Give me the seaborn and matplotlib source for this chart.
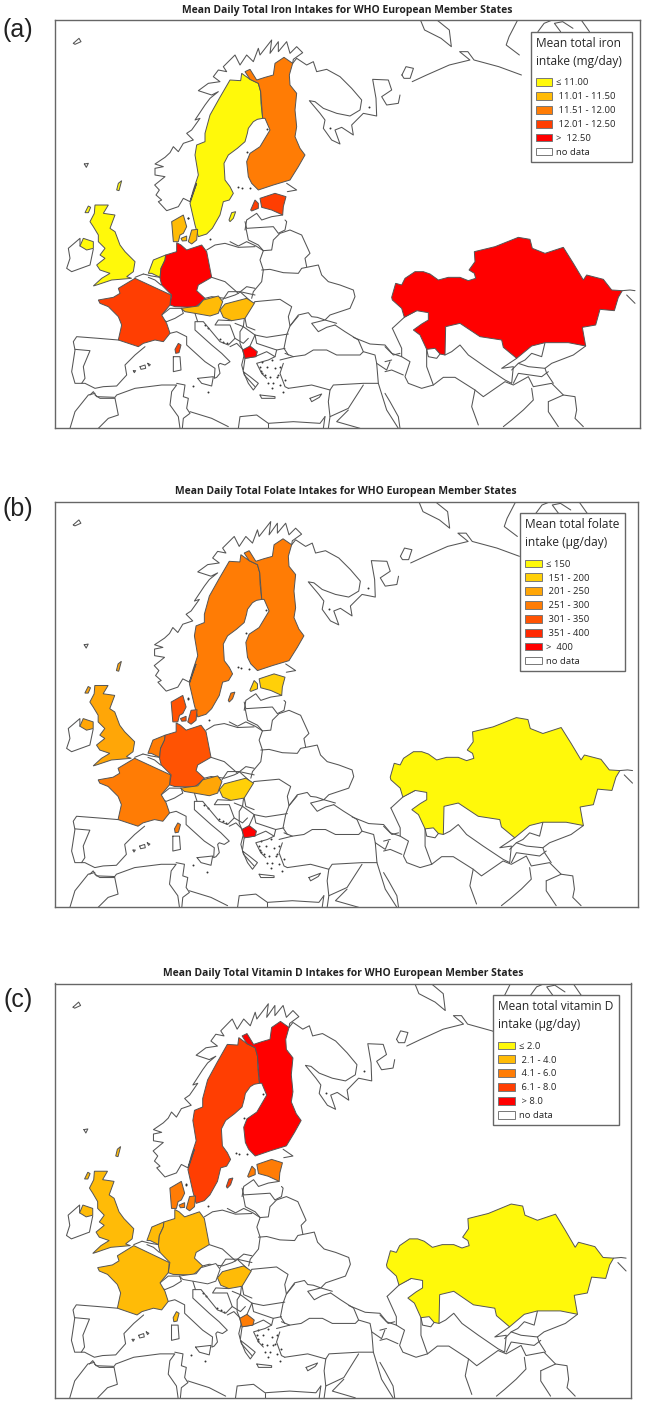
import numpy as np, pandas as pd
import matplotlib
matplotlib.use("Agg")
import matplotlib.pyplot as plt
from matplotlib.patches import Patch
import seaborn as sns

sns.set_theme(style="white")
plt.rcParams['font.family'] = ['Open Sans', 'DejaVu Sans']

W, H = 645, 1405
# ---- tile origins and scale of the traced outlines
TILES = {'T4': (55, 20, 3, 3), 'T5': (150, 20, 3, 3), 'T6': (55, 170, 3, 3), 'T7': (55, 280, 3, 3),
         'T8': (230, 220, 3, 3), 'T9': (385, 220, 3, 3), 'Z1': (0, 0, 2.426, 3)}
def P(t, pts):
    x0, y0, sx, sy = TILES[t]
    a = np.array(pts, float)
    return np.c_[x0 + a[:, 0] / sx, y0 + a[:, 1] / sy]

# ---- filled countries (outlines)
sweden = np.vstack([
    P('T5', [(275,160),(300,178),(325,190),(332,215),(333,250),(338,295),(322,298),(310,305),(295,325),(292,340),(285,365),(262,385),(235,405),(222,430),(225,480),(240,500),(250,520),(238,540)]),
    P('T6', [(505,95),(495,135),(472,175),(455,192),(430,200),(420,165),(405,100),(425,40)]),
    P('T5', [(120,545),(130,510),(145,465),(135,405),(140,375),(165,365),(165,340),(180,285),(208,235),(240,180),(272,182)])])
finland = P('T5', [(285,155),(300,148),(320,180),(345,172),(370,165),(375,130),(402,112),(428,130),(418,165),(420,195),(440,220),(435,270),(440,320),(435,350),(450,385),(465,405),(445,440),(420,480),(370,495),(325,510),(305,490),(295,470),(290,425),(300,400),(330,380),(360,330),(345,295),(338,295),(332,215),(325,190),(300,178)])
estonia = P('T5', [(330,535),(375,520),(408,530),(400,560),(398,585),(365,570),(335,562)])
saaremaa = P('T5', [(302,570),(315,540),(325,550),(325,565),(305,573)])
gotland = P('T5', [(237,600),(245,578),(257,575),(250,595),(240,605)])
jutland = P('T6', [(355,215),(350,155),(385,135),(395,170),(385,190),(375,195),(370,215)])
zealand = P('T6', [(400,215),(410,180),(428,178),(425,210),(410,222)])
fyn = P('T6', [(378,205),(395,198),(395,212),(382,213)])
britain = P('T6', [(120,105),(160,105),(145,130),(180,135),(165,175),(180,185),(195,225),(210,245),(240,275),(235,305),(215,320),(230,325),(170,330),(125,345),(115,348),(140,325),(165,310),(135,300),(125,285),(150,265),(135,255),(150,235),(130,215),(130,195),(115,170),(105,155),(118,130)])
n_ireland = P('T6', [(75,228),(85,205),(115,215),(115,235),(95,240)])
shetland = P('T4', [(185,510),(190,490),(200,482),(192,512)])
hebrides = P('T6', [(90,128),(100,108),(107,112),(100,128)])
netherlands = P('T6', [(280,310),(295,270),(332,255),(330,270),(318,295),(315,322),(290,310)])
germany = P('T6', [(365,218),(378,225),(395,240),(440,225),(455,245),(470,322),(430,345),(425,362),(450,385),(435,400),(420,412),(360,410),(345,405),(350,375),(320,345),(315,325),(318,295),(330,270),(332,255),(365,245)])
france = P('T7', [(130,60),(175,52),(195,40),(190,25),(240,-5),(348,45),(345,75),(320,105),(335,130),(345,160),(325,185),(300,180),(265,190),(250,200),(190,180),(200,135),(190,110),(160,80),(135,70)])
corsica = P('T7', [(360,208),(370,190),(378,195),(372,218),(362,220)])
austria = P('T7', [(378,85),(430,78),(445,60),(490,48),(503,65),(490,100),(465,108),(420,100),(390,95)])
hungary = P('T7', [(495,90),(510,72),(575,55),(598,70),(570,115),(530,122),(505,112)])
macedonia = P('T8', [(38,390),(60,378),(82,395),(78,410),(45,415)])
kazakhstan = P('T9', [(20,232),(32,190),(50,195),(60,175),(90,155),(115,155),(135,162),(160,180),(190,172),(225,172),(250,182),(272,175),(268,160),(252,150),(270,125),(268,95),(330,80),(400,52),(435,58),(442,85),(480,100),(535,82),(565,130),(595,180),(605,165),(655,178),(680,210),(712,212),(700,232),(688,272),(645,268),(632,315),(592,322),(602,378),(550,368),(480,368),(440,378),(395,415),(355,382),(350,360),(285,350),(225,310),(182,320),(180,405),(165,402),(150,385),(125,388),(105,345),(85,330),(110,312),(130,300),(130,278),(95,272),(58,292),(50,265),(22,240)])

SHAPES = {'Sweden': [sweden, gotland], 'Finland': [finland], 'Estonia': [estonia, saaremaa],
          'Denmark': [jutland, zealand, fyn], 'UK': [britain, n_ireland, shetland, hebrides],
          'Netherlands': [netherlands], 'Germany': [germany], 'France': [france, corsica],
          'Austria': [austria], 'Hungary': [hungary], 'Macedonia': [macedonia], 'Kazakhstan': [kazakhstan]}

# ---- class of each country in each panel (None = no data)
iron_class = {'Sweden':0,'UK':0,'Netherlands':0,'Denmark':1,'Austria':1,'Hungary':1,'Finland':2,'France':3,'Estonia':3,'Germany':4,'Kazakhstan':4,'Macedonia':4}
folate_class = {'Sweden':3,'Finland':3,'UK':2,'Netherlands':3,'Denmark':4,'Germany':4,'France':3,'Austria':2,'Hungary':1,'Estonia':1,'Kazakhstan':0,'Macedonia':6}
vitd_class = {'Sweden':3,'Finland':4,'UK':1,'Netherlands':1,'Denmark':2,'Germany':1,'France':1,'Hungary':1,'Estonia':2,'Kazakhstan':0,'Macedonia':2}

iron_labels = ['≤ 11.00', ' 11.01 - 11.50', ' 11.51 - 12.00', ' 12.01 - 12.50', '>  12.50']
folate_labels = ['≤ 150', ' 151 - 200', ' 201 - 250', ' 251 - 300', ' 301 - 350', ' 351 - 400', '>  400']
vitd_labels = ['≤ 2.0', ' 2.1 - 4.0', ' 4.1 - 6.0', ' 6.1 - 8.0', ' > 8.0']
titles = ['Mean Daily Total Iron Intakes for WHO European Member States',
          'Mean Daily Total Folate Intakes for WHO European Member States',
          'Mean Daily Total Vitamin D Intakes for WHO European Member States']
legend_titles = ['Mean total iron\nintake (mg/day)', 'Mean total folate\nintake (µg/day)', 'Mean total vitamin D\nintake (µg/day)']
panel_letters = ['(a)', '(b)', '(c)']

# ---- no-data boundaries
BORDERS = [
 P('T5', [(120,545),(100,535),(85,560),(50,572),(25,545),(35,540),(18,525),(28,510),(14,495),(45,470),(15,465),(15,445),(40,440),(15,432),(45,412),(60,398),(70,380),(85,395),(100,370),(130,360),(110,340),(125,330),(150,295),(135,300),(165,255),(180,235),(205,215),(185,225),(145,212),(175,190),(210,185),(190,170),(205,150),(230,155),(220,140),(255,105),(270,135),(290,105),(310,125),(325,85),(330,105),(365,60),(360,100),(385,65),(385,95),(410,65),(420,100),(440,80),(458,98),(430,118),(428,130)]),
 P('T5', [(428,130),(440,115),(470,135),(490,125),(500,155),(530,148),(570,170),(605,205),(635,240),(630,270),(600,288),(560,280),(520,265),(495,245),(478,242),(510,280),(525,300),(520,325),(545,360),(570,372),(555,330),(575,322),(610,345),(605,315),(640,280),(680,288),(678,235),(668,178),(715,180),(725,210),(695,230),(710,255),(745,250),(750,225)]),
 P('Z1', [(1000,245),(1035,225),(1090,195),(1140,180),(1115,155),(1135,155),(1150,180),(1210,200),(1265,225)]),
 P('Z1', [(1020,60),(1030,90),(1070,115),(1095,140),(1090,90),(1060,60)]),
 P('Z1', [(975,225),(985,200),(1003,205),(995,235),(980,235),(975,225)]),
 P('Z1', [(1255,62),(1235,110),(1228,135),(1260,165)]),
 P('Z1', [(1305,95),(1320,70),(1340,60)]), P('Z1', [(1360,95),(1345,70),(1365,65),(1390,85)]), P('Z1', [(1430,95),(1410,60)]),
 P('T5', [(410,490),(440,510),(412,515)]),
 P('T5', [(285,630),(290,600),(320,580),(335,600),(365,590),(398,585)]),
 # Ireland and small northern islands
 P('T6', [(75,228),(75,205),(40,235),(45,265),(35,295),(50,305),(105,285),(115,237)]),
 P('T4', [(55,70),(72,55),(78,65),(60,73),(55,70)]),
 P('T4', [(88,432),(100,430),(94,442),(88,432)]),
 # Central Europe
 P('T6', [(455,240),(480,225),(510,220),(550,232),(600,230)]),
 P('T6', [(470,322),(510,335),(550,370),(575,350),(600,355)]),
 P('T6', [(450,385),(470,380),(510,385),(540,375),(550,370)]),
 P('T6', [(265,312),(290,318),(315,322)]),
 P('T6', [(265,312),(240,322)]),
 P('T7', [(503,60),(520,35),(555,35),(585,62)]),
 P('T7', [(555,35),(600,45)]),
 P('T6', [(318,345),(300,330),(280,322)]),
 P('T7', [(320,105),(345,85),(380,85),(385,100),(360,115),(335,125),(325,120)]),
 # Baltic to Ukraine
 P('T8', [(45,5),(50,25),(130,20),(145,40),(165,30),(170,5),(165,0)]),
 P('T8', [(48,25),(55,60),(85,75),(100,92),(125,90),(130,60),(150,40),(180,30),(215,45),(240,100),(225,115),(230,140)]),
 P('T8', [(0,65),(25,78),(50,65),(78,78),(100,92)]),
 P('T8', [(100,92),(90,120),(100,150),(95,185),(70,215),(65,235)]),
 P('T8', [(95,150),(120,148),(160,158),(205,160),(215,145),(265,135),(275,165),(295,185),(330,195),(370,210),(375,230),(360,265),(300,285),(285,300),(320,310)]),
 P('T8', [(75,245),(150,238),(185,260),(175,290),(180,318),(205,285),(235,278),(245,290),(262,292),(285,300),(245,310),(265,335),(290,322),(315,315)]),
 P('T8', [(205,288),(180,318),(170,345),(162,385),(175,405)]),
 P('T8', [(75,245),(45,280),(40,320),(75,345),(110,352),(175,342)]),
 P('T8', [(75,345),(80,370),(140,390),(165,385)]),
 P('T8', [(165,400),(190,410),(225,405),(250,390),(290,390),(320,405),(390,405),(400,395),(385,360),(345,335),(315,315)]),
 P('T8', [(370,352),(420,372),(465,375),(490,405),(510,400)]),
 P('T8', [(400,395),(435,405),(440,430),(470,450),(480,425)]),
 P('T8', [(175,505),(210,500),(245,495),(300,510),(310,495),(400,490),(445,490)]),
 P('T8', [(150,420),(190,410)]),
 P('T8', [(160,430),(150,460),(165,500),(175,505)]),
 P('T8', [(440,430),(445,490),(470,570),(505,625)]),
 P('T8', [(300,510),(295,545),(300,590),(355,565),(400,495)]),
 P('T8', [(240,535),(275,522),(268,532),(245,545),(240,535)]),
 P('T8', [(90,525),(135,530),(135,535),(95,535),(90,525)]),
 P('T8', [(355,570),(320,605),(390,625)]),
 P('T8', [(285,590),(280,625)]), P('T8', [(300,590),(295,625)]),
 P('T8', [(25,625),(30,590),(80,585),(115,610),(190,605),(270,610),(285,590)]),
 P('T8', [(115,610),(115,625)]),
 # Balkans
 P('T8', [(45,415),(75,410),(110,395),(135,410),(115,420),(80,430),(95,460),(110,475)]),
 P('T8', [(135,410),(140,390)]),
 P('T8', [(40,450),(45,415),(38,390),(30,370),(30,335),(40,320)]),
 P('T8', [(40,455),(55,490),(70,510),(85,490),(60,470),(40,455)]),
 P('T8', [(15,310),(40,320)]),
 P('T8', [(60,378),(75,345)]),
 P('T7', [(570,115),(575,140),(600,150)]),
 P('T7', [(530,122),(490,120),(480,135),(525,135),(540,175),(520,195),(495,185),(445,125),(428,125),(420,100)]),
 P('T7', [(540,175),(565,190),(580,175)]),
 P('T7', [(525,200),(545,190),(570,215),(560,255),(568,285),(600,320)]),
 # Italy and islands
 P('T7', [(345,160),(365,155),(395,170),(395,195),(450,245),(480,265),(478,295),(485,292),(495,280),(490,255),(495,250),(510,255),(525,245),(500,220),(470,195),(420,150),(420,125),(428,125)]),
 P('T7', [(428,295),(475,290),(470,318),(440,310),(428,295)]),
 P('T7', [(355,230),(375,230),(378,270),(355,275),(355,230)]),
 P('T7', [(255,260),(270,255),(272,265),(258,268),(255,260)]),
 P('T7', [(235,272),(242,272),(238,278),(235,272)]), P('T7', [(278,250),(286,254),(282,258),(278,250)]),
 # Iberia and North Africa
 P('T7', [(190,180),(130,175),(65,170),(55,185),(60,210),(50,275),(60,310),(90,310),(120,325),(145,320),(185,318),(215,285),(210,255),(240,225),(270,200)]),
 P('T7', [(60,208),(105,212),(85,260),(90,295),(80,310)]),
 P('T7', [(120,340),(100,345),(60,395),(45,445)]),
 P('T7', [(105,345),(115,335),(125,350),(180,352),(185,345),(240,325),(320,315),(365,315),(350,335),(345,375),(370,410),(375,445)]),
 P('T7', [(120,345),(135,355),(180,355),(190,405),(160,415),(130,445)]),
 P('T7', [(365,310),(390,315),(385,350),(400,355),(395,385),(405,400),(385,415),(382,445)]),
 P('T7', [(405,395),(470,415),(520,440)]),
 # Caspian and Central Asia
 P('T9', [(22,325),(60,290),(95,272)]),
 P('T9', [(22,325),(50,385),(50,410),(75,425),(60,470),(70,490),(110,505),(145,495),(125,440),(125,388)]),
 P('T9', [(125,388),(130,410),(155,415),(165,402)]),
 P('T9', [(180,405),(200,395),(225,375),(250,405),(300,440),(360,480),(380,490),(385,440),(350,445),(395,415)]),
 P('T9', [(145,495),(175,472),(210,472),(270,510),(295,530),(360,485),(385,495),(430,470),(445,500),(500,490),(535,525),(570,530),(575,570),(570,595),(595,620)]),
 P('T9', [(270,510),(260,560),(280,615)]),
 P('T9', [(440,505),(445,540),(415,570),(380,600),(355,620)]),
 P('T9', [(490,545),(535,525)]), P('T9', [(490,545),(490,575),(520,620)]),
 P('T9', [(602,378),(565,405),(500,430),(480,445),(485,460),(505,490)]),
 P('T9', [(380,450),(400,430),(420,420),(440,400),(470,410),(480,368)]),
 P('T9', [(385,490),(400,460),(470,470),(490,455)]),
 P('T9', [(400,430),(430,440),(480,445)]),
 P('T9', [(0,380),(20,400),(50,410)]), P('T9', [(0,425),(20,420)]), P('T9', [(0,455),(20,450),(55,465)]),
 P('T9', [(0,520),(15,545),(40,590),(45,625)]),
 P('T9', [(712,212),(735,210),(750,212)]), P('T9', [(725,225),(750,250)]),
]
borders_df = pd.concat([pd.DataFrame({'x': b[:, 0], 'y': b[:, 1], 'id': i}) for i, b in enumerate(BORDERS)], ignore_index=True)

# small island specks
specks = np.vstack([
 P('T8', [(95,425),(110,440),(125,420),(135,445),(120,470),(140,470),(105,465),(130,490),(150,495),(160,515),(125,505),(90,440),(150,440),(145,465),(165,480),(115,490),(92,452),(95,458)]),
 P('T5', [(265,500),(275,503),(300,505),(350,328),(290,397),(115,595)]),
 P('T6', [(465,208),(400,143)]),
 P('T7', [(450,135),(460,145),(495,178),(505,185),(515,190),(415,318),(458,337)]),
 P('Z1', [(800,385),(895,320)])])
specks_df = pd.DataFrame({'x': specks[:, 0], 'y': specks[:, 1]})

# ---- panel frames in figure pixels: left, right, top, bottom
frames = [(55, 640, 20, 428), (55, 637.5, 501.7, 907), (55, 631, 983.5, 1397.5)]
legend_boxes = [(530.5, 31.7), (520, 513), (493, 995)]
legend_pad = ['  ', '', '']
class_maps = [iron_class, folate_class, vitd_class]
label_sets = [iron_labels, folate_labels, vitd_labels]
title_pos = [(347, 10.5), (346, 491.5), (343, 973.5)]
letter_pos = [(18, 30), (18, 509), (18, 1000)]
XLIM, YLIM = (55, 640), (428, 20)
EDGE = '#555555'

fig = plt.figure(figsize=(W / 100, H / 100), dpi=100, facecolor='white')
for k in range(3):
    l, r, t, b = frames[k]
    ax = fig.add_axes([l / W, 1 - b / H, (r - l) / W, (b - t) / H])
    pal = sns.blend_palette(['#FFF90A', '#FF0000'], len(label_sets[k]))
    sns.lineplot(data=borders_df, x='x', y='y', units='id', estimator=None, sort=False,
                 color=EDGE, lw=0.75, ax=ax, legend=False)
    sns.scatterplot(data=specks_df, x='x', y='y', s=2, color='#333333', linewidth=0, ax=ax, legend=False)
    for name, polys in SHAPES.items():
        c = class_maps[k].get(name)
        for poly in polys:
            ax.fill(poly[:, 0], poly[:, 1], facecolor='white' if c is None else pal[c],
                    edgecolor=EDGE, lw=0.7, zorder=3)
    ax.set_xlim(*XLIM); ax.set_ylim(*YLIM)
    ax.set_xlabel(''); ax.set_ylabel(''); ax.set_xticks([]); ax.set_yticks([])
    for s in ax.spines.values():
        s.set_color('#666666'); s.set_linewidth(1.0); s.set_visible(True)
    handles = [Patch(facecolor=pal[i], edgecolor='#777777', lw=0.7) for i in range(len(label_sets[k]))]
    handles.append(Patch(facecolor='white', edgecolor='#777777', lw=0.7))
    labels = label_sets[k] + ['no data']
    lx, ly = legend_boxes[k]
    first, second = legend_titles[k].split('\n')
    leg = ax.legend(handles, labels, title=first + legend_pad[k].replace(' ', '\u00a0') + '\n' + second, loc='upper left',
                    bbox_to_anchor=((lx - l) / (r - l), (b - ly) / (b - t)), borderaxespad=0,
                    fontsize=6.8, title_fontsize=8.6, alignment='left', frameon=True, fancybox=False,
                    framealpha=1, edgecolor='#666666', handlelength=1.75, handleheight=0.88,
                    labelspacing=0.5, handletextpad=0.45, borderpad=0.55)
    leg.get_title().set_linespacing(1.5)
    leg.get_frame().set_linewidth(1.0)
    leg._legend_box.sep = 7.5
    leg.set_zorder(10)
    fig.text(title_pos[k][0] / W, 1 - title_pos[k][1] / H, titles[k], ha='center', va='center',
             fontsize=7.45, fontweight='bold', color='#222222')
    fig.text(letter_pos[k][0] / W, 1 - letter_pos[k][1] / H, panel_letters[k], ha='center', va='center',
             fontsize=18, family=['Liberation Sans'], color='#222222')
fig.savefig('out.png', dpi=100, facecolor='white')
